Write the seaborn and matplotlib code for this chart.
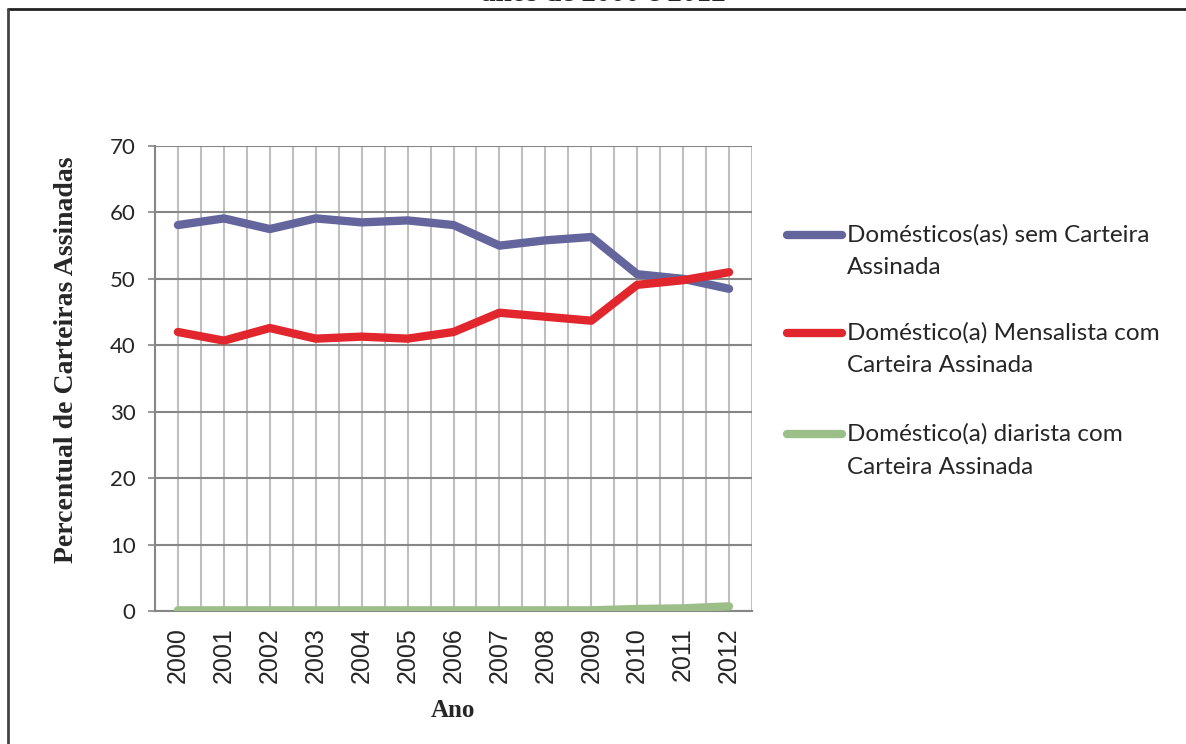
import numpy as np
import pandas as pd
import matplotlib
matplotlib.use('Agg')
import matplotlib.pyplot as plt
from matplotlib.lines import Line2D
from matplotlib.ticker import MultipleLocator
import seaborn as sns

sns.set_style('white')
plt.rcParams['font.family'] = ['Lato', 'DejaVu Sans']

years = list(range(2000, 2013))
sem_carteira = [58.1, 59.1, 57.5, 59.1, 58.5, 58.8, 58.1, 55.0, 55.8, 56.3, 50.7, 50.0, 48.5]
mensalista = [42.0, 40.7, 42.6, 41.0, 41.3, 41.0, 42.0, 44.9, 44.3, 43.7, 49.1, 49.8, 51.0]
diarista = [0.1, 0.1, 0.1, 0.1, 0.1, 0.1, 0.1, 0.1, 0.1, 0.1, 0.3, 0.4, 0.7]

series_names = ['Domésticos(as) sem Carteira\nAssinada',
                'Doméstico(a) Mensalista com\nCarteira Assinada',
                'Doméstico(a) diarista com\nCarteira Assinada']
colors = ['#63659C', '#E1262D', '#9CBF8A']

df = pd.DataFrame({
    'ano': years * 3,
    'valor': sem_carteira + mensalista + diarista,
    'serie': [series_names[0]] * 13 + [series_names[1]] * 13 + [series_names[2]] * 13,
})

fig = plt.figure(figsize=(11.86, 7.44), dpi=100)
ax = fig.add_axes([155 / 1186, 1 - 611 / 744, 597 / 1186, 465 / 744])

sns.lineplot(data=df, x='ano', y='valor', hue='serie', palette=colors,
             hue_order=series_names, linewidth=6, legend=False, ax=ax,
             solid_capstyle='round', zorder=3)

ax.set_xlim(1999.5, 2012.5)
ax.set_ylim(0, 70)
ax.set_yticks(range(0, 71, 10))
ax.set_xticks(years)
ax.set_xticklabels([str(y) for y in years], rotation=90,
                   family=['Liberation Sans'], fontsize=18)
ax.xaxis.set_minor_locator(MultipleLocator(0.5))
ax.grid(axis='x', which='both', color='#BFBFBF', linewidth=1.5, zorder=1)
ax.grid(axis='y', which='major', color='#868686', linewidth=1.5, zorder=1)
ax.tick_params(axis='y', labelsize=16, left=True, length=5, width=1.2,
               color='#868686', pad=9)
ax.tick_params(axis='x', which='both', bottom=False, pad=8)
for s in ['top', 'right']:
    ax.spines[s].set_visible(False)
for s in ['left', 'bottom']:
    ax.spines[s].set_color('#868686')
    ax.spines[s].set_linewidth(1.5)

ax.set_ylabel('Percentual de Carteiras Assinadas', family=['Liberation Serif'],
              fontweight='bold', fontsize=20)
ax.yaxis.set_label_coords(-0.128, 0.54)
ax.set_xlabel('Ano', family=['Liberation Serif'], fontweight='bold', fontsize=18)
ax.xaxis.set_label_coords(0.499, -0.19)

# legend drawn at the right of the plot
leg_y = [235, 333, 434]
for name, c, y in zip(series_names, colors, leg_y):
    yf = 1 - y / 744
    fig.add_artist(Line2D([787 / 1186, 842 / 1186], [yf, yf], color=c, lw=6,
                          solid_capstyle='round'))
    l1, l2 = name.split('\n')
    fig.text(847 / 1186, yf, l1, va='center', ha='left', fontsize=17.5)
    fig.text(847 / 1186, 1 - (y + 33) / 744, l2, va='center', ha='left', fontsize=17.5)

# outer frame and cut-off title
fig.add_artist(Line2D([8 / 1186, 1], [1 - 9 / 744, 1 - 9 / 744], color='#222222', lw=2))
fig.add_artist(Line2D([8 / 1186, 8 / 1186], [0, 1 - 9 / 744], color='#444444', lw=2))
fig.text(603 / 1186, 1 - 1 / 744, 'anos de 2000 e 2012', ha='center', va='baseline',
         family=['Liberation Serif'], fontweight='bold', fontsize=21)

fig.savefig('out.png', dpi=100)
